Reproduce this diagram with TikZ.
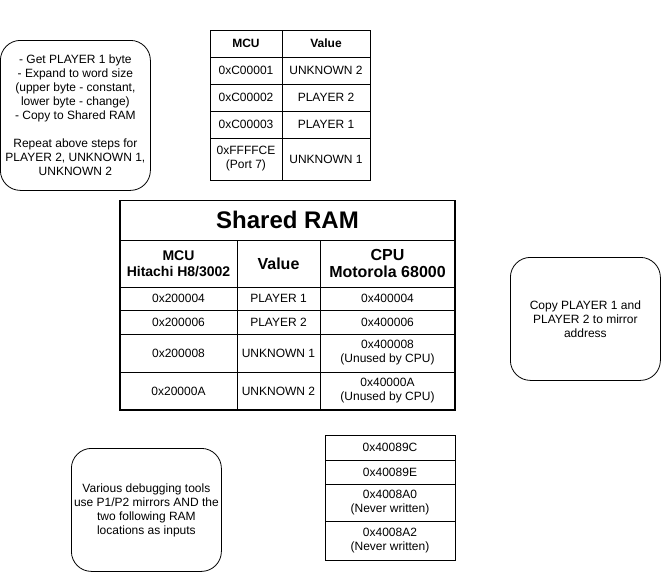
\documentclass[tikz,border=0pt]{standalone}
\usepackage{fontspec}
\setmainfont{Liberation Sans}
\begin{document}
\begin{tikzpicture}[x=1pt,y=-1pt]
\tikzset{
  txt/.style={font=\fontsize{12}{14}\selectfont, align=center},
  cell/.style={draw, line width=0.8pt, txt, anchor=north west, inner sep=1pt, outer sep=0pt},
  rbox/.style={draw, line width=0.8pt, rounded corners=20pt, txt, anchor=north west, inner sep=2pt},
  hdr/.style={font=\fontsize{16}{17}\selectfont\bfseries},
  hdrs/.style={font=\fontsize{14}{16}\selectfont\bfseries},
}
\newcommand\mycell[6][]{\node[cell, minimum width=#4pt, minimum height=#5pt, #1] (#2) at #3 {#6};}
\useasboundingbox (0,0) rectangle (661,573);

% rounded note boxes
\node[rbox, minimum width=150pt, minimum height=150pt] (steps) at (0,40)
 {- Get PLAYER 1 byte\\- Expand to word size\\(upper byte - constant,\\lower byte - change)\\- Copy to Shared RAM\\[14pt]Repeat above steps for\\PLAYER 2, UNKNOWN 1,\\UNKNOWN 2};
\node[rbox, minimum width=150pt, minimum height=123pt] (copy) at (510,257)
 {Copy PLAYER 1 and\\PLAYER 2 to mirror\\address};
\node[rbox, minimum width=150pt, minimum height=123pt] (debug) at (71,448)
 {Various debugging tools\\use P1/P2 mirrors AND the\\two following RAM\\locations as inputs};

% MCU input table
\mycell[font=\fontsize{12}{14}\selectfont\bfseries]{mh}{(210,30)}{72}{27}{MCU}
\mycell[font=\fontsize{12}{14}\selectfont\bfseries]{vh}{(282,30)}{88}{27}{Value}
\mycell{m1}{(210,57)}{72}{27}{0xC00001}
\mycell{v1}{(282,57)}{88}{27}{UNKNOWN 2}
\mycell{m2}{(210,84)}{72}{27}{0xC00002}
\mycell{v2}{(282,84)}{88}{27}{PLAYER 2}
\mycell{m3}{(210,111)}{72}{27}{0xC00003}
\mycell{v3}{(282,111)}{88}{27}{PLAYER 1}
\mycell{m4}{(210,138)}{72}{42}{0xFFFFCE\\(Port 7)}
\mycell{v4}{(282,138)}{88}{42}{UNKNOWN 1}

% Shared RAM table
\mycell[font=\fontsize{24}{26}\selectfont\bfseries]{title}{(120,200)}{335}{40}{Shared RAM}
\mycell[hdrs]{h1}{(120,240)}{117}{47}{MCU\\Hitachi H8/3002}
\mycell[hdr]{h2}{(237,240)}{83}{47}{Value}
\mycell[hdr]{h3}{(320,240)}{135}{47}{CPU\\Motorola 68000}
\mycell{a1}{(120,287)}{117}{23}{0x200004}
\mycell{b1}{(237,287)}{83}{23}{PLAYER 1}
\mycell{c1}{(320,287)}{135}{23}{0x400004}
\mycell{a2}{(120,310)}{117}{24}{0x200006}
\mycell{b2}{(237,310)}{83}{24}{PLAYER 2}
\mycell{c2}{(320,310)}{135}{24}{0x400006}
\mycell{a3}{(120,334)}{117}{38}{0x200008}
\mycell{b3}{(237,334)}{83}{38}{UNKNOWN 1}
\mycell{c3}{(320,334)}{135}{38}{0x400008\\(Unused by CPU)}
\mycell{a4}{(120,372)}{117}{38}{0x20000A}
\mycell{b4}{(237,372)}{83}{38}{UNKNOWN 2}
\mycell{c4}{(320,372)}{135}{38}{0x40000A\\(Unused by CPU)}
\draw[line width=1.4pt] (title.north west) -- (a4.south west) -- (c4.south east) -- (title.north east);

% debug RAM table
\mycell{d1}{(325,435)}{130}{25}{0x40089C}
\mycell{d2}{(325,460)}{130}{24}{0x40089E}
\mycell{d3}{(325,484)}{130}{37}{0x4008A0\\(Never written)}
\mycell{d4}{(325,521)}{130}{39}{0x4008A2\\(Never written)}
\end{tikzpicture}
\end{document}
